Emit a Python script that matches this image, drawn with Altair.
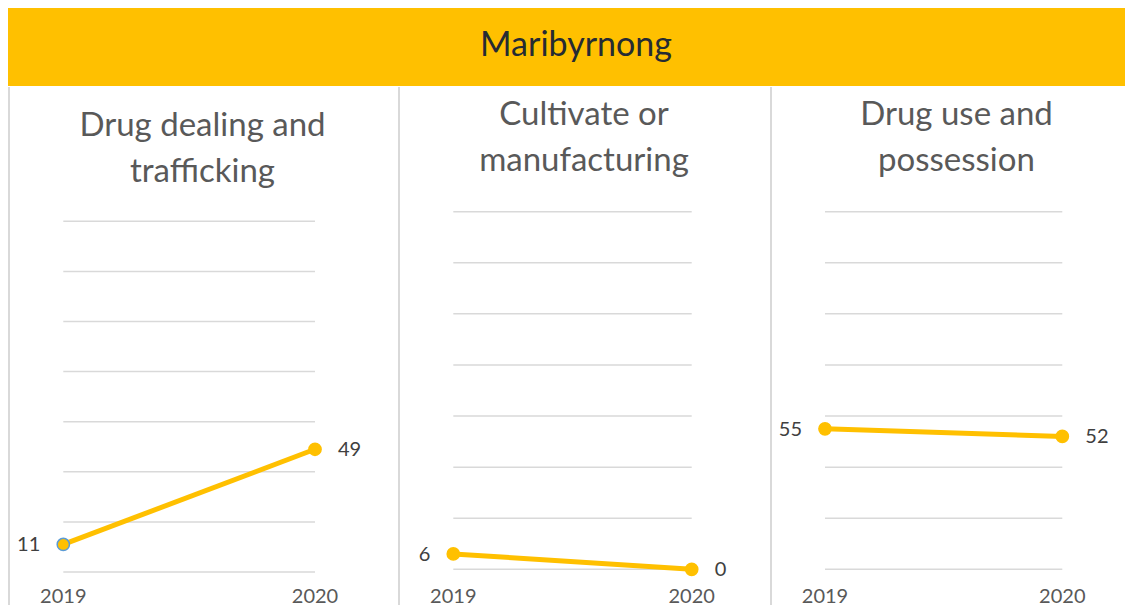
import altair as alt
import pandas as pd

# ---------------- data ----------------
region = "Maribyrnong"
categories = ["Drug dealing and trafficking", "Cultivate or manufacturing", "Drug use and possession"]
title_lines = [["Drug dealing and", "trafficking"], ["Cultivate or", "manufacturing"], ["Drug use and", "possession"]]
years = [2019, 2020]
values_2019 = [11, 6, 55]
values_2020 = [49, 0, 52]
grid_values = [0, 20, 40, 60, 80, 100, 120, 140]

# ---------------- style / layout ----------------
YELLOW = "#FFC000"
GRID = "#D9D9D9"
FONT = "Lato"
H = 518
layouts = [
    dict(w=390, xr=[55.3, 307.0], yr=[485.0, 134.3], tx=194.5, ty=49),
    dict(w=372, xr=[55.3, 293.7], yr=[482.3, 124.7], tx=186.0, ty=38),
    dict(w=355, xr=[55.0, 292.3], yr=[482.3, 124.7], tx=186.5, ty=38),
]
TOTAL_W = sum(L["w"] for L in layouts)


def panel(i):
    L = layouts[i]
    df = pd.DataFrame({
        "category": [categories[i]] * len(years),
        "year": years,
        "value": [values_2019[i], values_2020[i]],
        "label": [str(y) for y in years],
    })
    xs = alt.Scale(domain=[years[0], years[-1]], range=L["xr"], nice=False, zero=False)
    ys = alt.Scale(domain=[grid_values[0], grid_values[-1]], range=L["yr"], nice=False)
    X = alt.X("year:Q", scale=xs, axis=None)
    Y = alt.Y("value:Q", scale=ys, axis=None)
    base = alt.Chart(df)

    border = alt.Chart(pd.DataFrame({"b": [0]})).mark_rule(color=GRID, strokeWidth=2).encode(
        x=alt.value(1), y=alt.value(0), y2=alt.value(H)
    )
    title = alt.Chart(pd.DataFrame({"b": [0]})).mark_text(
        text=title_lines[i], font=FONT, fontSize=33, color="#595959",
        align="center", baseline="alphabetic", lineHeight=46,
    ).encode(x=alt.value(L["tx"]), y=alt.value(L["ty"]))
    grid = alt.Chart(pd.DataFrame({"v": grid_values})).mark_rule(color=GRID, strokeWidth=1.5).encode(
        y=alt.Y("v:Q", scale=ys, axis=None),
        x=alt.X(datum=years[0], type="quantitative", scale=xs, axis=None),
        x2=alt.X2(datum=years[-1]),
    )
    line = base.mark_line(color=YELLOW, strokeWidth=5).encode(x=X, y=Y)
    if i == 0:
        stroke = alt.condition(alt.datum.year == years[0], alt.value("#5B9BD5"), alt.value(YELLOW))
    else:
        stroke = alt.value(YELLOW)
    points = base.mark_circle(size=150, fill=YELLOW, fillOpacity=1, opacity=1, strokeWidth=1.5).encode(
        x=X, y=Y, stroke=stroke
    )
    lab_l = base.transform_filter(alt.datum.year == years[0]).mark_text(
        align="right", baseline="middle", dx=-23, dy=1, font=FONT, fontSize=20, color="#404040"
    ).encode(x=X, y=Y, text="value:Q")
    lab_r = base.transform_filter(alt.datum.year == years[-1]).mark_text(
        align="left", baseline="middle", dx=23, dy=1, font=FONT, fontSize=20, color="#404040"
    ).encode(x=X, y=Y, text="value:Q")
    yrs = base.mark_text(
        align="center", baseline="alphabetic", font=FONT, fontSize=20, color="#595959", clip=True
    ).encode(x=X, y=alt.value(516), text="label:N")

    return alt.layer(border, title, grid, line, points, lab_l, lab_r, yrs).properties(
        width=L["w"], height=H
    )


banner = alt.Chart(pd.DataFrame({"name": [region]})).mark_text(
    font=FONT, fontSize=34, color="#262B33", align="center", baseline="alphabetic"
).encode(text="name:N", x=alt.value(568), y=alt.value(47.7)).properties(
    width=TOTAL_W, height=78, view=alt.ViewBackground(fill=YELLOW, strokeWidth=0)
)

chart = alt.vconcat(
    banner,
    alt.hconcat(*[panel(i) for i in range(3)], spacing=0),
    spacing=0,
).properties(padding=0, background="white").configure_view(strokeWidth=0)

chart.save("out.html", embed_options={"renderer": "svg", "actions": False})
